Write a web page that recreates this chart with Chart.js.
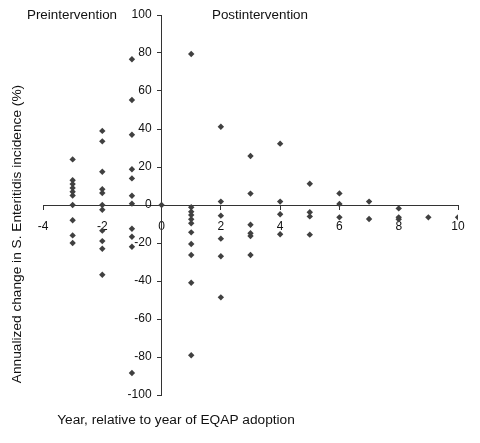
<!DOCTYPE html>
<html>
<head>
<meta charset="utf-8">
<script src="https://cdn.jsdelivr.net/npm/chart.js@4/dist/chart.umd.min.js"></script>
<style>
  html, body { margin: 0; padding: 0; background: #fff; }
  canvas { display: block; }
</style>
</head>
<body>
<canvas id="chart" width="480" height="443"></canvas>
<script>
// years relative to EQAP adoption, and the annualized change (%) observed in each
const years = [-3, -2, -1, 0, 1, 2, 3, 4, 5, 6, 7, 8, 9, 10];
const yearM3 = [24, 13, 11, 9, 7, 5, 0, -8, -16, -20];
const yearM2 = [39, 33.5, 17.5, 8.3, 6.3, 0, -2.5, -13.5, -19, -23, -36.7];
const yearM1 = [76.7, 55.3, 37, 18.8, 14, 4.9, 0.7, -12.5, -16.7, -22, -88.4];
const year0 = [0];
const year1 = [79.5, -1.2, -3.5, -5.3, -7.5, -9.6, -14.4, -20.5, -26.3, -40.9, -79.1];
const year2 = [41.2, 1.8, -5.6, -17.7, -27, -48.6];
const year3 = [25.8, 6, -10.4, -14.9, -16.3, -26.3];
const year4 = [32.3, 1.8, -4.9, -15.4];
const year5 = [11.2, -3.8, -6, -15.6];
const year6 = [6.1, 0.5, -6.5];
const year7 = [1.8, -7.4];
const year8 = [-1.8, -6.5, -7.5];
const year9 = [-6.5];
const year10 = [-6.5];

const columns = [yearM3, yearM2, yearM1, year0, year1, year2, year3, year4,
                 year5, year6, year7, year8, year9, year10];

// 点データを作る
const points = [];
years.forEach((yr, i) => {
    columns[i].forEach(v => points.push({x: yr, y: v}));
});

const FONT = '"Liberation Sans", Arial, sans-serif';

// 軸タイトル・区間ラベル・Y軸目盛ラベル
const labelPlugin = {
    id: 'labels',
    afterDraw(chart) {
        const ctx = chart.ctx;
        const xs = chart.scales.x;
        const ys = chart.scales.y;
        ctx.save();
        ctx.fillStyle = '#111';

        // Y軸の目盛ラベル（軸の左側に右寄せ）
        ctx.font = '12px ' + FONT;
        ctx.textAlign = 'right';
        ctx.textBaseline = 'middle';
        const axisX = xs.getPixelForValue(0);
        ys.ticks.forEach(t => {
            ctx.fillText(String(t.value), axisX - 10, ys.getPixelForValue(t.value));
        });

        ctx.textAlign = 'center';
        ctx.font = '13.4px ' + FONT;
        ctx.fillText('Preintervention', 72, 15);
        ctx.fillText('Postintervention', 260, 15);
        ctx.font = '13.7px ' + FONT;
        ctx.fillText('Year, relative to year of EQAP adoption', 176, 420);
        ctx.translate(17, 234);
        ctx.rotate(-Math.PI / 2);
        ctx.fillText('Annualized change in S. Enteritidis incidence (%)', 0, 0);
        ctx.restore();
    }
};

new Chart(document.getElementById('chart'), {
    type: 'scatter',
    data: {
        datasets: [{
            data: points,
            pointStyle: 'rectRot',
            pointRadius: 3.2,
            pointHoverRadius: 3.2,
            backgroundColor: '#404040',
            borderColor: '#404040',
            borderWidth: 0
        }]
    },
    options: {
        responsive: false,
        animation: false,
        layout: {padding: {left: 43, right: 22, top: 15, bottom: 48}},
        plugins: {legend: {display: false}, tooltip: {enabled: false}},
        scales: {
            x: {
                type: 'linear',
                position: {y: 0},
                min: -4,
                max: 10,
                ticks: {stepSize: 2, autoSkip: false, color: '#111', padding: 10,
                        font: {family: FONT, size: 12}},
                grid: {drawOnChartArea: false, drawTicks: true, tickLength: 4, color: '#333'},
                border: {color: '#333', width: 1}
            },
            y: {
                type: 'linear',
                position: {x: 0},
                min: -100,
                max: 100,
                ticks: {stepSize: 20, autoSkip: false, display: false},
                grid: {drawOnChartArea: false, drawTicks: true, tickLength: 4, color: '#333'},
                border: {color: '#333', width: 1}
            }
        }
    },
    plugins: [labelPlugin]
});
</script>
</body>
</html>
